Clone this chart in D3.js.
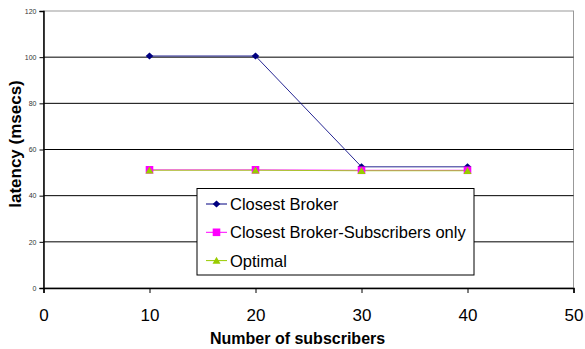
<!DOCTYPE html>
<html>
<head>
<meta charset="utf-8">
<script src="https://cdn.jsdelivr.net/npm/d3@7"></script>
<style>
  html, body { margin: 0; padding: 0; background: #fff; }
  svg { display: block; font-family: "Liberation Sans", Arial, sans-serif; }
</style>
</head>
<body>
<svg id="chart" width="585" height="349"></svg>
<script>
// Latency versus number of subscribers for three broker selection strategies
const subscribers = [10, 20, 30, 40];
const closestBroker = [100.5, 100.5, 52.5, 52.5];
const closestBrokerSubsOnly = [51.2, 51.2, 51.0, 51.0];
const optimal = [51.0, 51.0, 50.8, 50.8];
const seriesNames = ["Closest Broker", "Closest Broker-Subscribers only", "Optimal"];
const yTicks = [0, 20, 40, 60, 80, 100, 120];
const xTicks = [0, 10, 20, 30, 40, 50];

const series = [
  { name: seriesNames[0], values: closestBroker, color: "#000080", marker: "diamond" },
  { name: seriesNames[1], values: closestBrokerSubsOnly, color: "#FF00FF", marker: "square" },
  { name: seriesNames[2], values: optimal, color: "#99CC00", marker: "triangle" }
];

const svg = d3.select("#chart");
const plot = { left: 43.5, right: 573.5, top: 11, bottom: 288 };

const x = d3.scaleLinear().domain([0, 50]).range([plot.left, plot.right]);
const y = d3.scaleLinear().domain([0, 120]).range([plot.bottom, plot.top]);

// plot-area frame
svg.append("rect")
  .attr("x", plot.left).attr("y", plot.top)
  .attr("width", plot.right - plot.left).attr("height", plot.bottom - plot.top)
  .attr("fill", "none").attr("stroke", "#999").attr("stroke-width", 1);

// horizontal gridlines
svg.append("g").selectAll("line")
  .data(yTicks.filter(d => d > 0 && d < 120))
  .join("line")
  .attr("x1", plot.left).attr("x2", plot.right)
  .attr("y1", d => y(d)).attr("y2", d => y(d))
  .attr("stroke", "#000").attr("stroke-width", 1);

// y axis
const yAxis = svg.append("g")
  .attr("transform", `translate(${plot.left},0)`)
  .call(d3.axisLeft(y).tickValues(yTicks).tickSize(4).tickPadding(3));
yAxis.select(".domain").attr("stroke", "#000").attr("stroke-width", 1.5);
yAxis.selectAll(".tick line").attr("stroke", "#000");
yAxis.selectAll(".tick text")
  .attr("font-size", 7).attr("fill", "#333")
  .attr("font-family", "Liberation Sans, Arial, sans-serif");

// x axis
const xAxis = svg.append("g")
  .attr("transform", `translate(0,${plot.bottom})`)
  .call(d3.axisBottom(x).tickValues(xTicks).tickSize(5).tickPadding(16));
xAxis.select(".domain").attr("stroke", "#000").attr("stroke-width", 1.5);
xAxis.selectAll(".tick line").attr("stroke", "#000");
xAxis.selectAll(".tick text")
  .attr("font-size", 17).attr("fill", "#000")
  .attr("font-family", "Liberation Sans, Arial, sans-serif");

// axis titles
svg.append("text")
  .attr("x", 210).attr("y", 344)
  .attr("text-anchor", "start")
  .attr("font-size", 16).attr("font-weight", "bold")
  .text("Number of subscribers");

svg.append("text")
  .attr("transform", "translate(21,144) rotate(-90)")
  .attr("text-anchor", "middle")
  .attr("font-size", 17).attr("font-weight", "bold")
  .text("latency (msecs)");

// marker shapes
const markerPath = {
  diamond: "M0,-3.5L3.8,0L0,3.5L-3.8,0Z",
  square: "M-3.8,-3.8H3.8V3.8H-3.8Z",
  triangle: "M0,-3.8L4,3.2H-4Z"
};

const line = d3.line()
  .x((d, i) => x(subscribers[i]))
  .y(d => y(d));

series.forEach(s => {
  svg.append("path")
    .datum(s.values)
    .attr("fill", "none")
    .attr("stroke", s.color)
    .attr("stroke-width", 1)
    .attr("stroke-opacity", 0.85)
    .attr("d", line);
});
series.forEach(s => {
  svg.append("g").selectAll("path")
    .data(s.values)
    .join("path")
    .attr("transform", (d, i) => `translate(${x(subscribers[i])},${y(d)})`)
    .attr("d", markerPath[s.marker])
    .attr("fill", s.color);
});

// legend
const legend = svg.append("g").attr("transform", "translate(197,188.5)");
legend.append("rect")
  .attr("x", 0).attr("y", 0).attr("width", 277).attr("height", 86.5)
  .attr("fill", "#fff").attr("stroke", "#000").attr("stroke-width", 1);
series.forEach((s, i) => {
  const cy = 15.5 + i * 28.3;
  legend.append("line")
    .attr("x1", 9).attr("x2", 30).attr("y1", cy).attr("y2", cy)
    .attr("stroke", s.color).attr("stroke-width", 1);
  legend.append("path")
    .attr("transform", `translate(19.5,${cy})`)
    .attr("d", markerPath[s.marker])
    .attr("fill", s.color);
  legend.append("text")
    .attr("x", 33).attr("y", cy + 6)
    .attr("font-size", 16.5).attr("fill", "#000")
    .text(s.name);
});
</script>
</body>
</html>
